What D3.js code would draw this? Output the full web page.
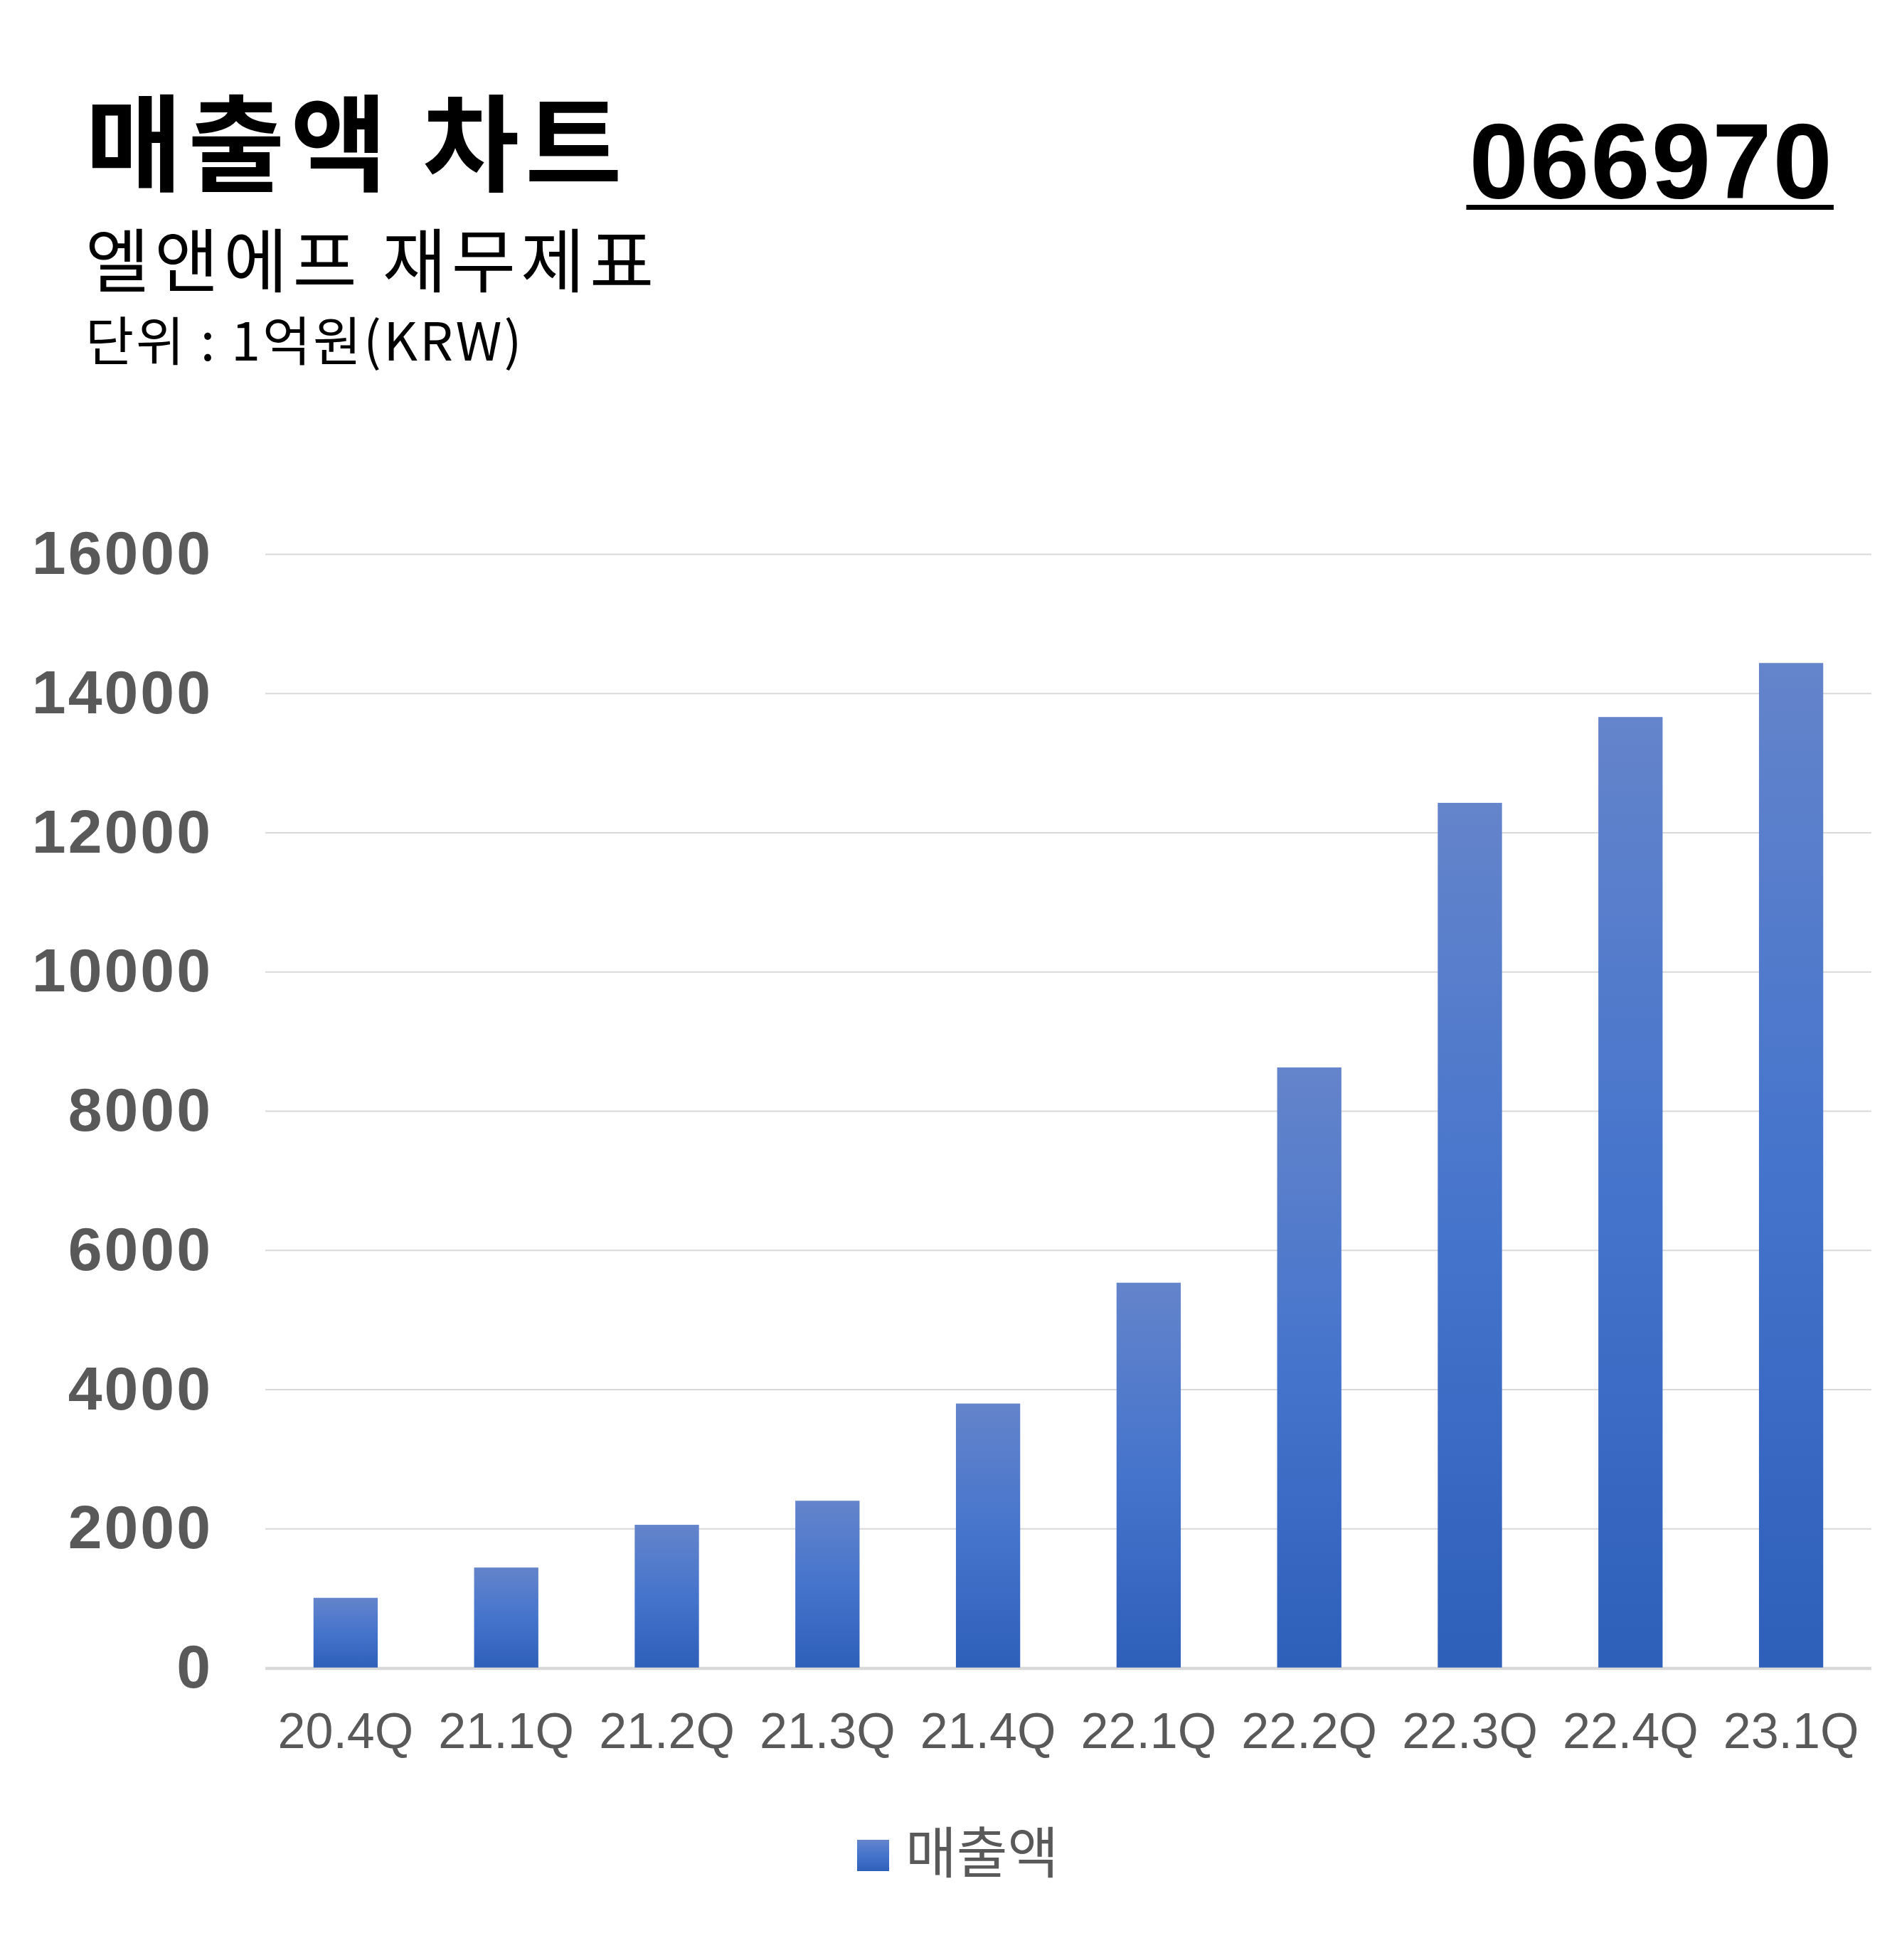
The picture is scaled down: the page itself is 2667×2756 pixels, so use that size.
<!DOCTYPE html>
<html>
<head>
<meta charset="utf-8">
<script src="https://cdn.jsdelivr.net/npm/d3@7/dist/d3.min.js"></script>
<style>
  html, body { margin: 0; padding: 0; background: #ffffff; }
  svg { display: block; }
</style>
</head>
<body>
<script>
// ---- data ----
const categories = ["20.4Q", "21.1Q", "21.2Q", "21.3Q", "21.4Q", "22.1Q", "22.2Q", "22.3Q", "22.4Q", "23.1Q"];
const revenue = [1004, 1439, 2053, 2399, 3795, 5531, 8624, 12425, 13658, 14434];
const yTicks = [0, 2000, 4000, 6000, 8000, 10000, 12000, 14000, 16000];
const seriesName = "매출액";
const titleText = "매출액 차트";
const subtitleText = "엘앤에프 재무제표";
const unitText = "단위 : 1억원(KRW)";
const codeText = "066970";

// ---- layout ----
const W = 2667, H = 2756;
const plot = { left: 373, right: 2631, top: 779, bottom: 2345 };
const KR = "'Noto Sans CJK KR', 'Noto Sans', sans-serif";
const LAT = "'Liberation Sans', Arial, sans-serif";
const grey = "#595959";

const svg = d3.select("body").append("svg")
  .attr("width", W).attr("height", H)
  .attr("viewBox", `0 0 ${W} ${H}`);

svg.append("rect").attr("width", W).attr("height", H).attr("fill", "#ffffff");

const defs = svg.append("defs");
const grad = defs.append("linearGradient")
  .attr("id", "barGrad").attr("x1", 0).attr("y1", 0).attr("x2", 0).attr("y2", 1);
grad.append("stop").attr("offset", "0%").attr("stop-color", "#6484cb");
grad.append("stop").attr("offset", "50%").attr("stop-color", "#4574cc");
grad.append("stop").attr("offset", "100%").attr("stop-color", "#2e5fb9");

// ---- scales ----
const x = d3.scaleBand().domain(categories).range([plot.left, plot.right])
  .paddingInner(0.6).paddingOuter(0.3);
const y = d3.scaleLinear().domain([0, 16000]).range([plot.bottom, plot.top]);

// ---- gridlines ----
const grid = svg.append("g").attr("transform", `translate(${plot.left},0)`)
  .call(d3.axisLeft(y).tickValues(yTicks).tickSize(-(plot.right - plot.left)).tickFormat(""));
grid.select(".domain").remove();
grid.selectAll(".tick line")
  .attr("stroke", "#d9d9d9")
  .attr("stroke-width", d => d === 0 ? 3.5 : 2.2);

// ---- y labels ----
const yAx = svg.append("g").attr("transform", `translate(${plot.left},0)`)
  .call(d3.axisLeft(y).tickValues(yTicks).tickSize(0).tickPadding(74).tickFormat(d3.format("d")));
yAx.select(".domain").remove();
yAx.selectAll("text")
  .attr("fill", grey)
  .style("font-family", LAT)
  .style("font-weight", "700")
  .style("font-size", "86px")
  .style("letter-spacing", "3px");

// ---- bars ----
svg.append("g").selectAll("rect").data(revenue).join("rect")
  .attr("x", (d, i) => x(categories[i]))
  .attr("width", x.bandwidth())
  .attr("y", d => y(d))
  .attr("height", d => y(0) - y(d))
  .attr("fill", "url(#barGrad)");

// redraw baseline above bars
svg.append("line")
  .attr("x1", plot.left).attr("x2", plot.right)
  .attr("y1", y(0) + 1.5).attr("y2", y(0) + 1.5)
  .attr("stroke", "#d9d9d9").attr("stroke-width", 3.5);

// ---- x labels ----
const xAx = svg.append("g").attr("transform", `translate(0,${plot.bottom})`)
  .call(d3.axisBottom(x).tickSize(0));
xAx.select(".domain").remove();
xAx.selectAll("text")
  .attr("y", 113).attr("dy", null)
  .attr("fill", grey)
  .style("font-family", LAT)
  .style("font-size", "70px");

// ---- legend ----
const lg = svg.append("g");
lg.append("rect").attr("x", 1205).attr("y", 2587).attr("width", 45).attr("height", 44)
  .attr("fill", "url(#barGrad)");
lg.append("text").attr("x", 1273).attr("y", 2634)
  .attr("fill", grey)
  .style("font-family", KR).style("font-size", "78px")
  .text(seriesName);

// ---- titles ----
svg.append("text").attr("x", 120).attr("y", 257)
  .style("font-family", KR).style("font-weight", "700").style("font-size", "148px")
  .style("letter-spacing", "8px")
  .attr("fill", "#000").text(titleText);
svg.append("text").attr("x", 120).attr("y", 403)
  .style("font-family", KR).style("font-weight", "400").style("font-size", "98px")
  .style("letter-spacing", "7px")
  .attr("fill", "#000").text(subtitleText);
svg.append("text").attr("x", 120).attr("y", 507)
  .style("font-family", KR).style("font-weight", "400").style("font-size", "74px")
  .style("letter-spacing", "3px")
  .attr("fill", "#000").text(unitText);

const code = svg.append("text").attr("x", 2578).attr("y", 279)
  .attr("text-anchor", "end")
  .style("font-family", LAT).style("font-weight", "700").style("font-size", "150px")
  .style("letter-spacing", "2px")
  .attr("fill", "#000").text(codeText);
const bb = code.node().getBBox();
svg.append("rect").attr("x", bb.x - 4).attr("y", 288).attr("width", bb.width + 4).attr("height", 7)
  .attr("fill", "#000");
</script>
</body>
</html>
